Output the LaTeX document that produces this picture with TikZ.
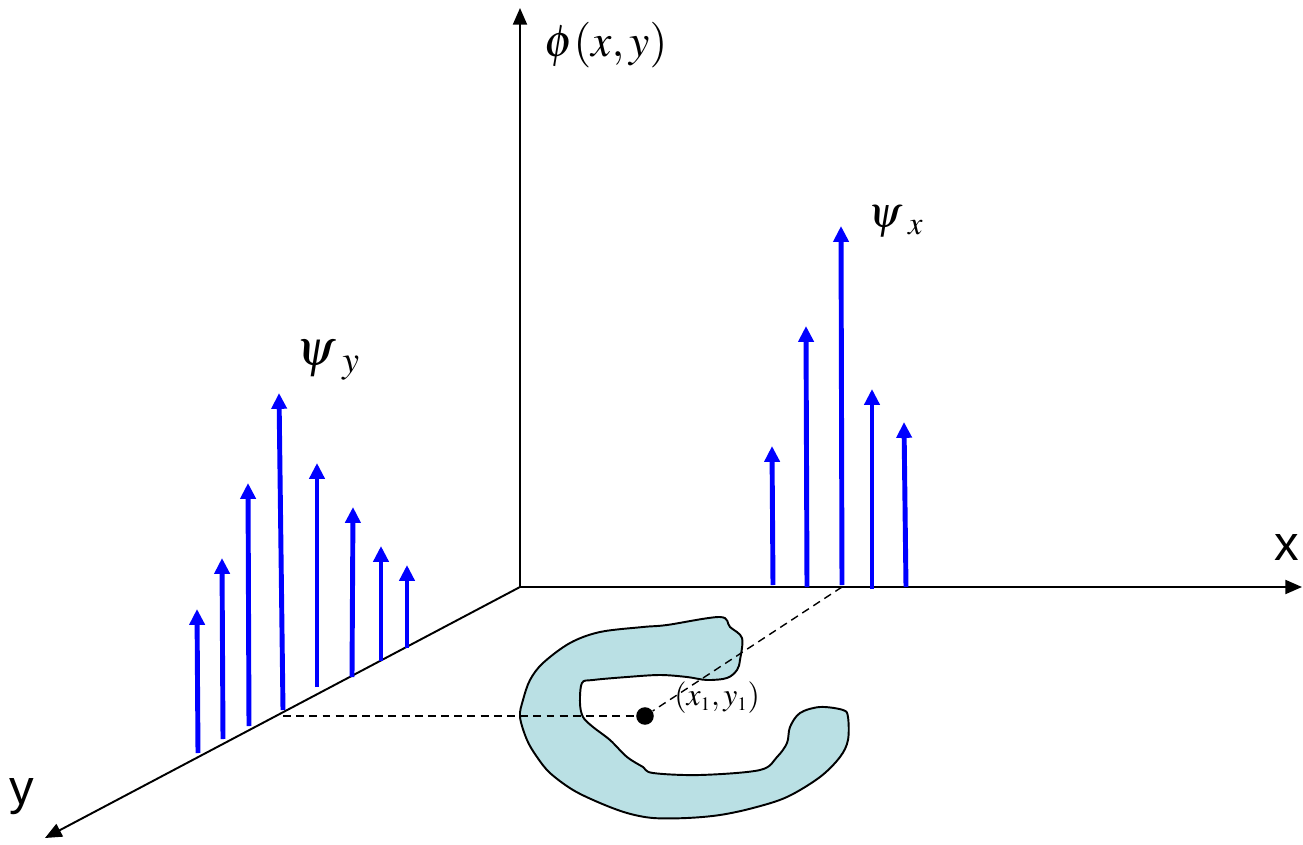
\documentclass[tikz,border=0pt]{standalone}
\usepackage{mathptmx}
\usepackage{fontspec}
\setsansfont{Liberation Sans}
\usetikzlibrary{arrows.meta}
\definecolor{stem}{RGB}{0,0,255}
\definecolor{region}{RGB}{186,224,228}
\newcommand{\lowsub}[2]{\hspace{#2}\lower#2\hbox{$\scriptstyle #1$}}

\begin{document}
\begin{tikzpicture}[x=0.02cm, y=-0.02cm,
  axis/.style={line width=1.1pt, -{Triangle[length=9.5pt, width=8pt]}},
  stemarrow/.style={stem, line width=2.8pt, -{Triangle[length=9pt, width=8.5pt]}},
  guide/.style={line width=0.8pt, dash pattern=on 4.5pt off 3pt}]
\useasboundingbox (0,0) rectangle (1303,845);

% Axes
\coordinate (O) at (520,587);
\coordinate (xend) at (1302,587);
\coordinate (yend) at (45,838);
\coordinate (zend) at (520,8);
\draw[axis] (O) -- (xend);
\draw[axis] (O) -- (yend);
\draw[axis] (O) -- (zend);

\node[font=\fontsize{26}{28}\selectfont] (philabel) at (606,45) {$\phi(x,y)$};
\node[font=\sffamily\fontsize{28}{30}\selectfont] (xlabel) at (1287,548) {x};
\node[font=\sffamily\fontsize{28}{30}\selectfont] (ylabel) at (22,797) {y};

% Region
\draw[line width=1.1pt, fill=region] plot[smooth cycle, tension=0.55] coordinates {
  (720,617) (667,625) (643,627) (600,632) (570,643) (543,663) (530,680)
  (523,700) (520,717) (527,740) (537,757) (550,773) (573,790) (600,803)
  (627,813) (653,818) (687,818) (720,815) (753,808) (787,797) (820,777)
  (840,757) (848,740) (848,717) (843,710) (820,707) (800,713) (790,727)
  (787,743) (777,757) (760,770) (700,775) (653,773) (643,767) (627,757)
  (610,740) (593,727) (583,717) (580,703) (582,683) (593,680) (627,677)
  (660,675) (687,677) (707,680) (727,678) (737,670) (740,660) (742,638)
  (730,627)};

% Projections
\coordinate (xfoot) at (842,587);
\coordinate (yfoot) at (283,716);
\node[circle, fill, inner sep=0pt, minimum size=10pt] (pt) at (645,716) {};
\draw[guide] (xfoot) -- (pt);
\draw[guide] (yfoot) -- (pt);
\node[font=\fontsize{18}{20}\selectfont, anchor=west, inner sep=0pt] (ptlabel) at (674,698) {$(x_{\scriptscriptstyle 1},y_{\scriptscriptstyle 1})$};

% Samples along y
\foreach \bx/\by/\tx/\ty in {198/753/197/609, 223/739/222/558, 249/726/248/483,
    283/710/279/393, 317/687/317/463, 352/677/353/507, 381/661/381/546, 407/648/407/565}
  \draw[stemarrow] (\bx,\by) -- (\tx,\ty);
\node[font=\fontsize{29}{31}\selectfont, inner sep=1pt, anchor=west] (psiy) at (294,360) {$\psi\lowsub{y}{4pt}$};

% Samples along x
\foreach \bx/\by/\tx/\ty in {773/585/772/446, 807/587/806/326, 842/585/841/226,
    872/589/872/389, 906/587/904/422}
  \draw[stemarrow] (\bx,\by) -- (\tx,\ty);
\node[font=\fontsize{25}{27}\selectfont, inner sep=1pt, anchor=west] (psix) at (866,222) {$\psi\lowsub{x}{3.5pt}$};
\end{tikzpicture}
\end{document}
